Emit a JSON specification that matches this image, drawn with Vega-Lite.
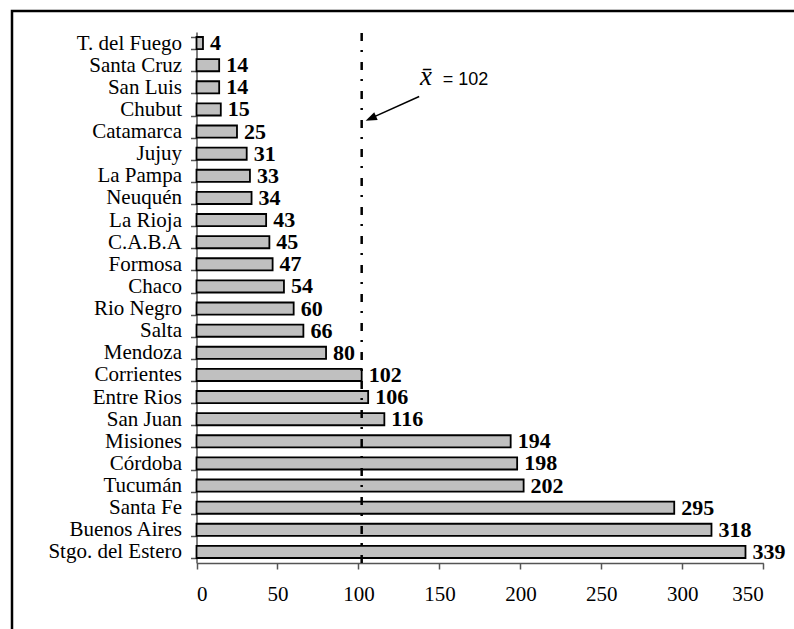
{
  "$schema": "https://vega.github.io/schema/vega-lite/v6.json",
  "width": 784,
  "height": 620,
  "autosize": {"type": "none"},
  "padding": {"left": 12, "top": 11, "right": -2, "bottom": -2},
  "background": "white",
  "config": {
    "view": {"stroke": "black", "strokeWidth": 2.5},
    "axis": {"grid": false, "title": null}
  },
  "datasets": {
    "provincias": [
      {"provincia": "T. del Fuego", "casos": 4},
      {"provincia": "Santa Cruz", "casos": 14},
      {"provincia": "San Luis", "casos": 14},
      {"provincia": "Chubut", "casos": 15},
      {"provincia": "Catamarca", "casos": 25},
      {"provincia": "Jujuy", "casos": 31},
      {"provincia": "La Pampa", "casos": 33},
      {"provincia": "Neuquén", "casos": 34},
      {"provincia": "La Rioja", "casos": 43},
      {"provincia": "C.A.B.A", "casos": 45},
      {"provincia": "Formosa", "casos": 47},
      {"provincia": "Chaco", "casos": 54},
      {"provincia": "Rio Negro", "casos": 60},
      {"provincia": "Salta", "casos": 66},
      {"provincia": "Mendoza", "casos": 80},
      {"provincia": "Corrientes", "casos": 102},
      {"provincia": "Entre Rios", "casos": 106},
      {"provincia": "San Juan", "casos": 116},
      {"provincia": "Misiones", "casos": 194},
      {"provincia": "Córdoba", "casos": 198},
      {"provincia": "Tucumán", "casos": 202},
      {"provincia": "Santa Fe", "casos": 295},
      {"provincia": "Buenos Aires", "casos": 318},
      {"provincia": "Stgo. del Estero", "casos": 339}
    ],
    "media": [{"media": 102}]
  },
  "layer": [
    {
      "data": {"name": "provincias"},
      "mark": {"type": "bar", "fill": "#c0c0c0", "stroke": "black", "strokeWidth": 1.8},
      "encoding": {
        "y": {
          "field": "provincia",
          "type": "nominal",
          "sort": null,
          "scale": {"range": [21, 552], "paddingInner": 0.45, "paddingOuter": 0.225},
          "axis": {
            "orient": "left",
            "offset": -184.5,
            "tickBand": "extent",
            "domainColor": "#555555",
            "domainWidth": 1.5,
            "tickColor": "#555555",
            "tickWidth": 1.5,
            "tickSize": 6,
            "labelPadding": 9,
            "labelFont": "Liberation Serif",
            "labelFontSize": 21,
            "labelColor": "black"
          }
        },
        "x": {
          "field": "casos",
          "type": "quantitative",
          "scale": {"domain": [0, 350], "range": [184.5, 751.3], "nice": false, "zero": true},
          "axis": {
            "orient": "bottom",
            "offset": -68,
            "values": [0, 50, 100, 150, 200, 250, 300, 350],
            "domainColor": "#555555",
            "domainWidth": 1.5,
            "tickColor": "#555555",
            "tickWidth": 1.5,
            "tickSize": 6,
            "labelPadding": 14,
            "labelFont": "Liberation Serif",
            "labelFontSize": 21,
            "labelColor": "black"
          }
        }
      }
    },
    {
      "data": {"name": "media"},
      "mark": {"type": "rule", "color": "black", "strokeWidth": 2.5, "strokeDash": [8, 9, 2, 10], "strokeCap": "butt", "yOffset": -4, "y2Offset": 17},
      "encoding": {
        "x": {"field": "media", "type": "quantitative"},
        "y": {"datum": "T. del Fuego", "bandPosition": 0},
        "y2": {"datum": "Stgo. del Estero"}
      }
    },
    {
      "data": {"name": "provincias"},
      "mark": {"type": "text", "align": "left", "baseline": "middle", "dx": 7, "font": "Liberation Serif", "fontWeight": "bold", "fontSize": 22, "color": "black"},
      "encoding": {
        "y": {"field": "provincia", "type": "nominal", "sort": null},
        "x": {"field": "casos", "type": "quantitative"},
        "text": {"field": "casos", "type": "quantitative"}
      }
    },
    {
      "data": {"name": "media"},
      "mark": {"type": "rule", "color": "black", "strokeWidth": 1.5, "yOffset": -12.9, "y2Offset": 9},
      "encoding": {
        "x": {"datum": 137.5},
        "x2": {"datum": 107.5},
        "y": {"datum": "Chubut"},
        "y2": {"datum": "Chubut"}
      }
    },
    {
      "data": {"name": "media"},
      "mark": {"type": "point", "shape": "M-1,0L0.9,-0.7L0.9,0.7Z", "size": 144, "angle": 335.5, "filled": true, "color": "black", "opacity": 1, "yOffset": 8.9},
      "encoding": {
        "x": {"datum": 107.8},
        "y": {"datum": "Chubut"}
      }
    },
    {
      "data": {"name": "media"},
      "mark": {"type": "text", "align": "left", "baseline": "alphabetic", "font": "Liberation Serif", "fontStyle": "italic", "fontSize": 27, "color": "black", "dy": -24.6},
      "encoding": {
        "x": {"datum": 138},
        "y": {"datum": "Chubut"},
        "text": {"value": "x̄"}
      }
    },
    {
      "data": {"name": "media"},
      "mark": {"type": "text", "align": "left", "baseline": "alphabetic", "font": "Liberation Sans", "fontSize": 18, "color": "black", "dy": -24.6},
      "encoding": {
        "x": {"datum": 152},
        "y": {"datum": "Chubut"},
        "text": {"value": "= 102"}
      }
    }
  ]
}
